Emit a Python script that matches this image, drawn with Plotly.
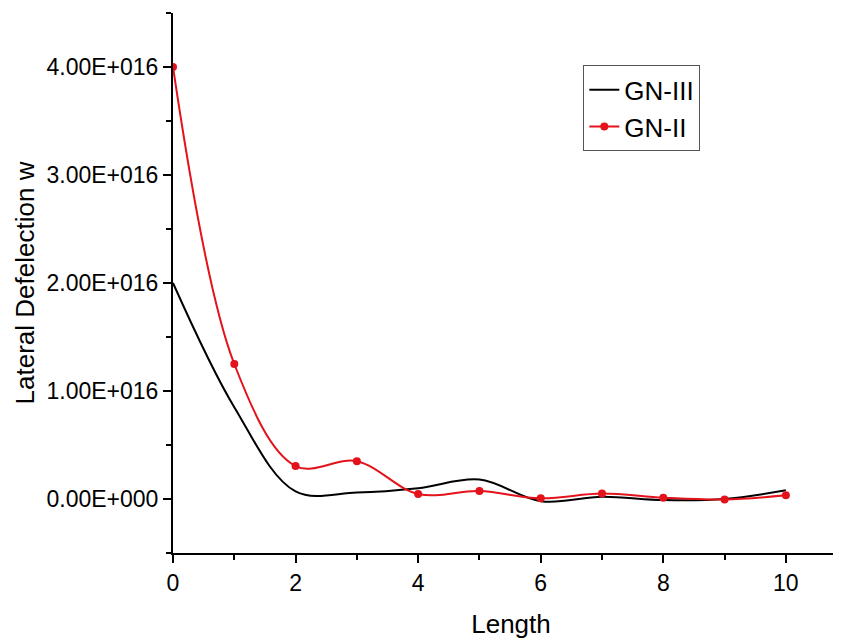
import plotly.graph_objects as go

x_vals = [0, 1, 2, 3, 4, 5, 6, 7, 8, 9, 10]
gn3_vals = [2.0e16, 0.85e16, 0.07e16, 0.06e16, 0.10e16, 0.18e16, -0.02e16, 0.02e16, -0.01e16, 0.0, 0.08e16]
gn2_vals = [4.0e16, 1.25e16, 0.305e16, 0.35e16, 0.046e16, 0.074e16, 0.006e16, 0.05e16, 0.012e16, -0.005e16, 0.034e16]

y_tickvals = [0, 1e16, 2e16, 3e16, 4e16]
y_ticktext = ["0.00E+000", "1.00E+016", "2.00E+016", "3.00E+016", "4.00E+016"]
x_tickvals = [0, 2, 4, 6, 8, 10]

FONT = "Liberation Sans, Arial, sans-serif"

fig = go.Figure()
fig.add_trace(go.Scatter(
    x=x_vals, y=gn3_vals, name="GN-III", mode="lines",
    line=dict(color="black", width=2, shape="spline", smoothing=1.0),
))
fig.add_trace(go.Scatter(
    x=x_vals, y=gn2_vals, name="GN-II", mode="lines+markers",
    line=dict(color="#e3121b", width=2, shape="spline", smoothing=1.0),
    marker=dict(color="#e3121b", size=8),
))

fig.update_layout(
    width=841, height=639,
    margin=dict(l=165, r=0, t=5, b=94),
    plot_bgcolor="white", paper_bgcolor="white",
    font=dict(family=FONT, color="black", size=23),
    showlegend=True,
    legend=dict(
        x=0.607, y=0.903, xanchor="left", yanchor="top",
        bordercolor="#555555", borderwidth=1,
        font=dict(size=26, family=FONT, color="black"),
        bgcolor="white",
        tracegroupgap=0,
    ),
)
fig.update_xaxes(
    range=[0, 11.03], automargin=False,
    showgrid=False, zeroline=False,
    showline=True, linecolor="black", linewidth=2,
    ticks="outside", ticklen=8, tickwidth=2, tickcolor="black",
    tickvals=x_tickvals,
    tickfont=dict(size=23, family=FONT),
    minor=dict(dtick=1, tick0=0, ticks="outside", ticklen=5, tickwidth=2, tickcolor="black"),
    title=dict(text="Length", font=dict(size=26, family=FONT), standoff=20),
)
fig.update_yaxes(
    range=[-0.5e16, 4.5e16], automargin=False,
    showgrid=False, zeroline=False,
    showline=True, linecolor="black", linewidth=2,
    ticks="outside", ticklen=8, tickwidth=2, tickcolor="black",
    tickvals=y_tickvals, ticktext=y_ticktext,
    tickfont=dict(size=23, family=FONT),
    minor=dict(dtick=0.5e16, tick0=-0.5e16, ticks="outside", ticklen=5, tickwidth=2, tickcolor="black"),
    title=dict(text="Lateral Defelection w", font=dict(size=26, family=FONT), standoff=4),
)

fig.write_html("out.html")
